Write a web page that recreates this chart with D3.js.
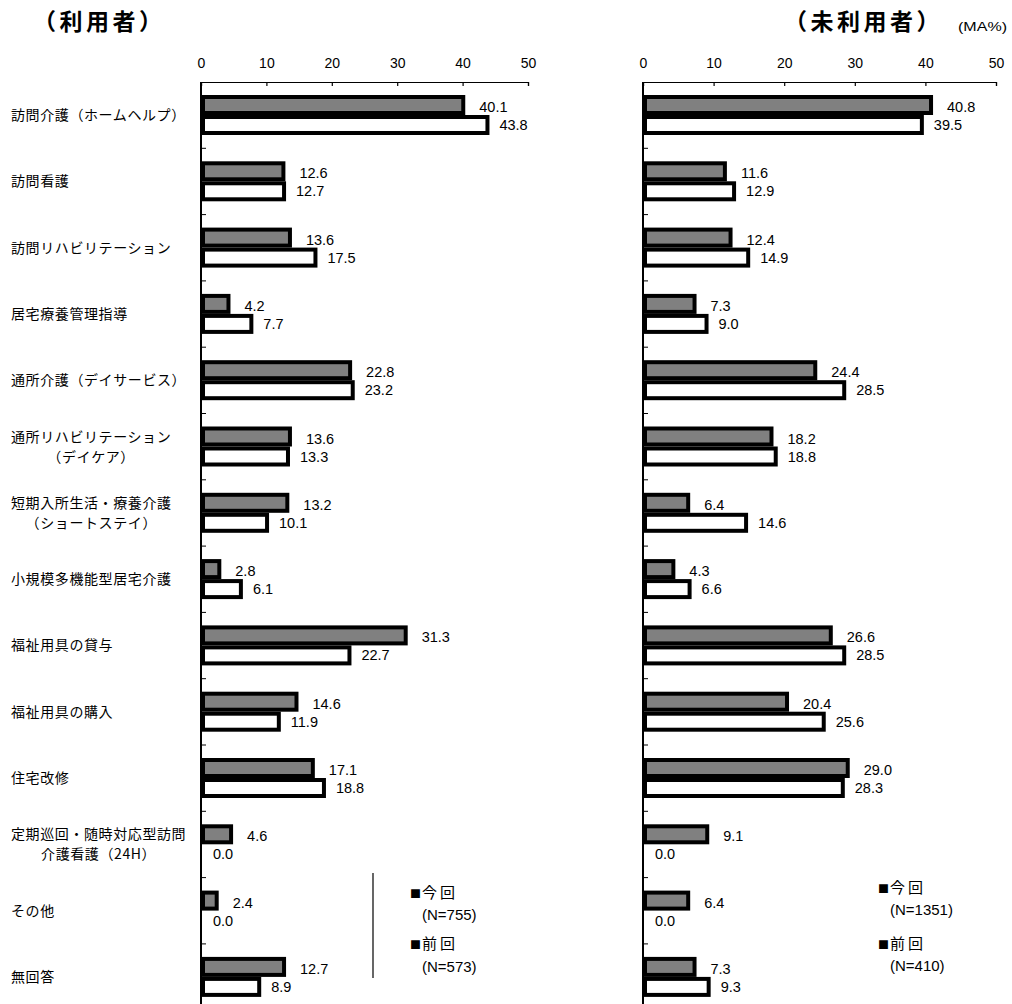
<!DOCTYPE html>
<html>
<head>
<meta charset="utf-8">
<script src="https://cdn.jsdelivr.net/npm/d3@7"></script>
<style>
  body { margin: 0; background: #fff; }
</style>
</head>
<body>
<svg id="chart" width="1012" height="1004"></svg>
<script>
// categories, top to bottom ("\n" = line break in the label)
const categories = [
  "訪問介護（ホームヘルプ）",
  "訪問看護",
  "訪問リハビリテーション",
  "居宅療養管理指導",
  "通所介護（デイサービス）",
  "通所リハビリテーション\n（デイケア）",
  "短期入所生活・療養介護\n（ショートステイ）",
  "小規模多機能型居宅介護",
  "福祉用具の貸与",
  "福祉用具の購入",
  "住宅改修",
  "定期巡回・随時対応型訪問\n介護看護（24H）",
  "その他",
  "無回答"
];

// 利用者
const userNow  = [40.1, 12.6, 13.6, 4.2, 22.8, 13.6, 13.2, 2.8, 31.3, 14.6, 17.1, 4.6, 2.4, 12.7];
const userPrev = [43.8, 12.7, 17.5, 7.7, 23.2, 13.3, 10.1, 6.1, 22.7, 11.9, 18.8, 0.0, 0.0, 8.9];
// 未利用者
const nonNow  = [40.8, 11.6, 12.4, 7.3, 24.4, 18.2, 6.4, 4.3, 26.6, 20.4, 29.0, 9.1, 6.4, 7.3];
const nonPrev = [39.5, 12.9, 14.9, 9.0, 28.5, 18.8, 14.6, 6.6, 28.5, 25.6, 28.3, 0.0, 0.0, 9.3];

const series = ["今回", "前回"];
const axisTicks = [0, 10, 20, 30, 40, 50];
const userLegend = [["今回", "(N=755)"], ["前回", "(N=573)"]];
const nonLegend  = [["今回", "(N=1351)"], ["前回", "(N=410)"]];

const jpFont = "'Noto Sans CJK JP', 'Noto Sans', sans-serif";
const numFont = "'Liberation Sans', Arial, sans-serif";

const svg = d3.select("#chart");

const plotTop = 82;
const bandH = 66.3;
const y = d3.scaleBand(categories, [plotTop, plotTop + bandH * categories.length]).padding(0);
const sub = d3.scaleBand(series, [13, 53]).padding(0);

const fills = {"今回": "#808080", "前回": "#ffffff"};

// titles
svg.append("text")
  .attr("x", 33).attr("y", 30)
  .attr("font-family", jpFont).attr("font-size", 23).attr("font-weight", "bold")
  .attr("letter-spacing", 3.5)
  .text("（利用者）");
svg.append("text")
  .attr("x", 784).attr("y", 30)
  .attr("font-family", jpFont).attr("font-size", 23).attr("font-weight", "bold")
  .attr("letter-spacing", 3.5)
  .text("（未利用者）");
svg.append("text")
  .attr("x", 958).attr("y", 31)
  .attr("font-family", numFont).attr("font-size", 12)
  .attr("textLength", 49).attr("lengthAdjust", "spacingAndGlyphs")
  .text("(MA%)");

// category labels (left only)
categories.forEach(c => {
  let lines = c.split("\n");
  let cy = y(c) + y.bandwidth() / 2;
  let g = svg.append("g").attr("font-family", jpFont).attr("font-size", 14).attr("fill", "#000");
  if (lines.length === 1) {
    g.append("text").attr("x", 11).attr("y", cy).attr("dy", "0.35em")
      .attr("letter-spacing", 0.6).text(lines[0]);
  } else {
    let t1 = g.append("text").attr("x", 11).attr("y", cy - 10).attr("dy", "0.35em")
      .attr("letter-spacing", 0.6).text(lines[0]);
    let w = t1.node().getComputedTextLength();
    g.append("text").attr("x", 11 + w / 2).attr("y", cy + 10).attr("dy", "0.35em")
      .attr("text-anchor", "middle").attr("letter-spacing", 0.6).text(lines[1]);
  }
});

function drawPanel(x, nowVals, prevVals) {
  let g = svg.append("g");

  // top value axis, ticks pointing into the plot
  g.append("g")
    .attr("transform", `translate(0,${plotTop})`)
    .call(d3.axisTop(x).tickValues(axisTicks).tickSize(-4).tickPadding(14).tickSizeOuter(-4))
    .call(a => a.selectAll("text").attr("font-family", numFont).attr("font-size", 14).attr("fill", "#000"))
    .call(a => a.selectAll("line, path").attr("stroke", "#000").attr("stroke-width", 1.2));

  // category axis with boundary ticks
  g.append("line")
    .attr("x1", x(0)).attr("x2", x(0))
    .attr("y1", plotTop).attr("y2", 1004)
    .attr("stroke", "#000").attr("stroke-width", 2);
  g.selectAll(".ctick")
    .data(categories.slice(1))
    .join("line")
    .attr("x1", x(0)).attr("x2", x(0) + 5)
    .attr("y1", d => y(d)).attr("y2", d => y(d))
    .attr("stroke", "#000").attr("stroke-width", 1);

  let rows = categories.map((c, i) => ({c: c, vals: [
    {s: "今回", v: nowVals[i]},
    {s: "前回", v: prevVals[i]}
  ]}));

  let row = g.selectAll(".row").data(rows).join("g")
    .attr("transform", d => `translate(0,${y(d.c)})`);

  row.selectAll("rect")
    .data(d => d.vals.filter(e => e.v > 0))
    .join("rect")
    .attr("x", x(0) + 2)
    .attr("y", e => sub(e.s) + 2)
    .attr("width", e => Math.max(0, x(e.v) - x(0) - 2))
    .attr("height", sub.bandwidth() - 4)
    .attr("fill", e => fills[e.s])
    .attr("stroke", "#000")
    .attr("stroke-width", 4);

  row.selectAll("text")
    .data(d => d.vals)
    .join("text")
    .attr("x", e => x(e.v) + (e.s === "今回" ? 16 : 12))
    .attr("y", e => sub(e.s) + sub.bandwidth() / 2 + (e.s === "今回" ? 2 : 0))
    .attr("dy", "0.35em")
    .attr("font-family", numFont).attr("font-size", 14.5)
    .text(e => e.v.toFixed(1));
}

const xL = d3.scaleLinear([0, 50], [201, 528]);
const xR = d3.scaleLinear([0, 50], [643, 996]);

drawPanel(xL, userNow, userPrev);
drawPanel(xR, nonNow, nonPrev);

// legends
function drawLegend(x0, ys, items) {
  let g = svg.append("g");
  items.forEach((it, i) => {
    let t = g.append("text")
      .attr("x", x0).attr("y", ys[i * 2]).attr("dy", "0.35em");
    t.append("tspan").attr("font-family", jpFont).attr("font-size", 11).text("■");
    t.append("tspan").attr("dx", 1).attr("font-family", jpFont).attr("font-size", 15)
      .attr("letter-spacing", 3).text(it[0]);
    g.append("text")
      .attr("x", x0 + 12).attr("y", ys[i * 2 + 1]).attr("dy", "0.35em")
      .attr("font-family", numFont).attr("font-size", 15)
      .text(it[1]);
  });
}
svg.append("line")
  .attr("x1", 373).attr("x2", 373).attr("y1", 873).attr("y2", 978)
  .attr("stroke", "#000").attr("stroke-width", 1.2);
drawLegend(410, [892, 915, 943, 967], userLegend);
drawLegend(878, [887, 910, 943, 966], nonLegend);
</script>
</body>
</html>
